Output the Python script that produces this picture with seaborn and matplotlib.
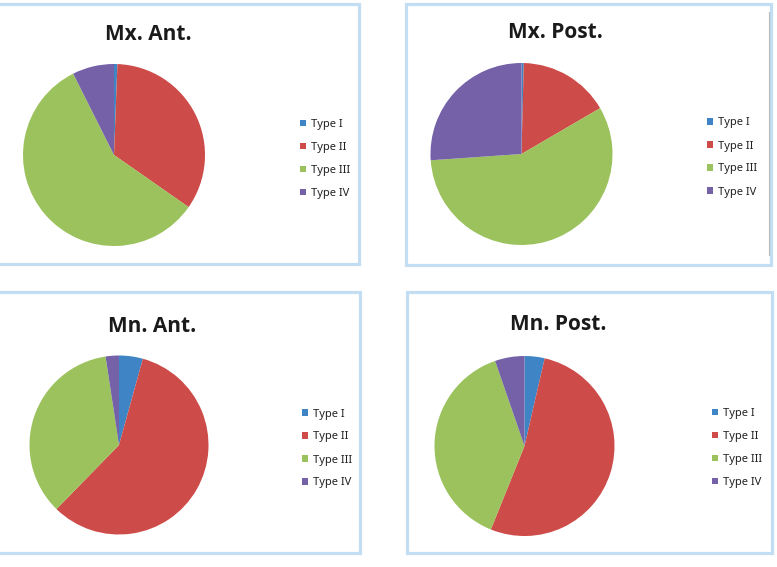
import matplotlib
matplotlib.use("Agg")
import matplotlib.pyplot as plt
from matplotlib.patches import Rectangle
from matplotlib.lines import Line2D
import seaborn as sns

# ---- data (percent shares) ----
categories = ["Type I", "Type II", "Type III", "Type IV"]
panel_titles = ["Mx. Ant.", "Mx. Post.", "Mn. Ant.", "Mn. Post."]
mx_ant = [0.6, 34.1, 57.9, 7.4]
mx_post = [0.4, 16.2, 57.3, 26.1]
mn_ant = [4.3, 58.0, 35.3, 2.4]
mn_post = [3.6, 52.5, 38.6, 5.3]
series = [mx_ant, mx_post, mn_ant, mn_post]

colors = ["#3F85C5", "#CD4B48", "#9BC25C", "#7461A8"]

sns.set_theme(style="white")
plt.rcParams["font.family"] = ["Noto Sans", "DejaVu Sans"]

W, H = 777, 567
fig = plt.figure(figsize=(W / 100, H / 100), dpi=100)
fig.patch.set_facecolor("white")

def fx(px):
    return px / W

def fy(py):
    return 1 - py / H

# panel frames (left, top, right, bottom) in pixels
frames = [(-5, 3.5, 358.5, 264.5), (406, 3.5, 771, 265),
          (-5, 292, 359.5, 553), (407, 292, 771.5, 553)]
border_color = "#C3DEF2"
for (l, t, r, b) in frames:
    fig.patches.append(Rectangle((fx(l), fy(b)), fx(r) - fx(l), fy(t) - fy(b),
                                 transform=fig.transFigure, fill=False,
                                 edgecolor=border_color, linewidth=2.3))
# faint inner line on second panel
fig.lines.append(Line2D([fx(768.5), fx(768.5)], [fy(12), fy(255)],
                        transform=fig.transFigure, color="#A8A8A8", linewidth=0.8, alpha=0.8))

# pie centres and radii (pixels)
pies = [(114, 155, 91), (521.5, 154, 91), (119, 445, 89.5), (524.5, 446, 90)]
# titles: centre x, baseline y
titles = [(148.5, 39.5), (555.5, 38.5), (152, 331.5), (558.5, 330.5)]
# legends: handle left x, top y
legends = [(300, 119), (706.5, 117.5), (301.5, 408.5), (711.5, 408)]

for vals, title, (cx, cy, r), (tx, ty), (lx, ly) in zip(series, panel_titles, pies, titles, legends):
    ax = fig.add_axes([fx(cx - r), fy(cy + r), (2 * r) / W, (2 * r) / H])
    wedges, _ = ax.pie(vals, colors=colors, startangle=90, counterclock=False,
                       wedgeprops=dict(linewidth=0))
    ax.set_xlim(-1, 1)
    ax.set_ylim(-1, 1)
    ax.set_aspect("auto")
    ax.axis("off")
    fig.text(fx(tx), fy(ty), title, ha="center", va="baseline",
             fontsize=15, fontweight="bold", color="#1A1A1A",
             family=["Open Sans", "DejaVu Sans"])
    fig.legend(wedges, categories, loc="upper left",
               bbox_to_anchor=(fx(lx), fy(ly)), bbox_transform=fig.transFigure,
               frameon=False, fontsize=8, borderpad=0, borderaxespad=0,
               handlelength=0.55, handleheight=0.55, handletextpad=0.45,
               labelspacing=1.08, labelcolor="#222222")

fig.savefig("out.png", dpi=100, facecolor="white")
